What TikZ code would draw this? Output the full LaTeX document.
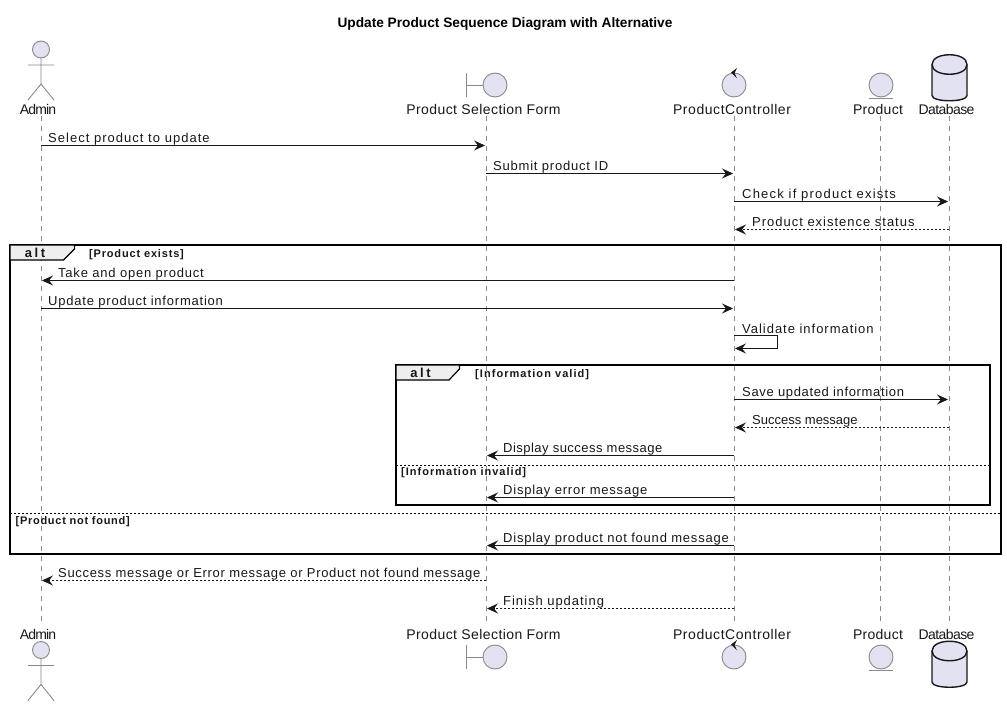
\documentclass[tikz,border=0pt]{standalone}
\usepackage{fontspec}
\setmainfont{Liberation Sans}
\newfontfamily\msgfont[LetterSpace=6]{Liberation Sans}
\newfontfamily\partfont[LetterSpace=3]{Liberation Sans}
\newfontfamily\guardfont[LetterSpace=7.5]{Liberation Sans}
\newfontfamily\altfont[LetterSpace=20]{Liberation Sans}
\usetikzlibrary{arrows.meta}
\definecolor{partfill}{HTML}{E2E2F0}
\definecolor{ink}{HTML}{181818}
\definecolor{lifegray}{HTML}{8A8A8A}
\definecolor{tabfill}{HTML}{EEEEEE}
\newcommand{\trk}[1]{\addfontfeature{LetterSpace=#1}}
\tikzset{
  lifeline/.style={draw=lifegray,line width=0.9pt,dash pattern=on 5pt off 5pt},
  msgline/.style={draw=ink,line width=0.9pt,-{Stealth[length=11pt,width=10pt,inset=4pt]}},
  retline/.style={msgline,dash pattern=on 2pt off 2pt},
  msglabel/.style={anchor=base west,inner sep=0pt,font=\msgfont\fontsize{13}{15}\selectfont,text=ink},
  partlabel/.style={anchor=base,inner sep=0pt,font=\partfont\fontsize{14}{16}\selectfont,text=ink},
  partshape/.style={draw=lifegray,line width=0.9pt,fill=partfill},
  dbshape/.style={draw=ink,line width=1.4pt,fill=partfill},
  frameline/.style={draw=black,line width=1.8pt},
  sepline/.style={draw=black,line width=0.9pt,dash pattern=on 2pt off 2pt},
  guard/.style={anchor=base west,inner sep=0pt,font=\guardfont\bfseries\fontsize{11}{13}\selectfont,text=ink},
  altlabel/.style={anchor=base,inner sep=0pt,font=\altfont\bfseries\fontsize{13}{15}\selectfont,text=ink},
  tabshape/.style={draw=black,line width=1.2pt,fill=tabfill},
}
% \sendmsg{name}{y}{from x}{to x}{style}{label x}{label}
\newcommand{\sendmsg}[7]{%
  \coordinate (#1a) at (#3,#2-0.5);
  \coordinate (#1b) at (#4,#2-0.5);
  \draw[#5] (#1a) -- (#1b);
  \node[msglabel] (#1t) at (#6,#2-3.8) {#7};
}
\newcommand{\actorfig}[2]{% centre x, head y
  \draw[partshape] (#1,#2) circle[radius=8.5];
  \draw[draw=lifegray,line width=0.9pt] (#1,#2+8.5) -- (#1,#2+34.5) (#1-13,#2+15.5) -- (#1+13,#2+15.5) (#1-13,#2+50.5) -- (#1,#2+34.5) -- (#1+13,#2+50.5);
}
\newcommand{\boundaryfig}[2]{%
  \draw[draw=lifegray,line width=0.9pt] (#1-29,#2-12) -- (#1-29,#2+12) (#1-29,#2) -- (#1-12,#2);
  \draw[partshape] (#1,#2) circle[radius=12];
}
\newcommand{\controlfig}[2]{%
  \draw[partshape] (#1,#2) circle[radius=12];
  \fill[ink] (#1-3,#2-12.5) -- (#1+3,#2-17) -- (#1+0.5,#2-12) -- (#1+3,#2-6.5) -- cycle;
}
\newcommand{\entityfig}[2]{%
  \draw[partshape] (#1,#2) circle[radius=12];
  \draw[draw=lifegray,line width=1.2pt] (#1-12,#2+13.5) -- (#1+12,#2+13.5);
}
\newcommand{\dbfig}[2]{% centre x, top y
  \draw[dbshape] (#1-17.5,#2+10) -- (#1-17.5,#2+41) .. controls (#1-17.5,#2+48) and (#1+17.5,#2+48) .. (#1+17.5,#2+41) -- (#1+17.5,#2+10) .. controls (#1+17.5,#2-3) and (#1-17.5,#2-3) .. (#1-17.5,#2+10) -- cycle;
  \draw[dbshape,fill=none] (#1-17.5,#2+10) .. controls (#1-17.5,#2+23) and (#1+17.5,#2+23) .. (#1+17.5,#2+10);
}
\begin{document}
\begin{tikzpicture}[x=1pt,y=-1pt]
\useasboundingbox (0,0) rectangle (1007,706);
\fill[white] (0,0) rectangle (1007,706);
\node[font=\bfseries\fontsize{13.7}{16}\selectfont,text=black,inner sep=0pt,anchor=base] (title) at (505,27.5) {Update Product Sequence Diagram with Alternative};

% participant labels (top and bottom)
\node[partlabel] (adminT) at (38,114.7) {\trk{-6}Admin};
\node[partlabel] (formT) at (483.5,114.7) {Product Selection Form};
\node[partlabel] (ctrlT) at (732,114.7) {\trk{4}ProductController};
\node[partlabel] (prodT) at (878,114.7) {\trk{2}Product};
\node[partlabel] (dbT) at (946.5,114.7) {\trk{-4}Database};
\node[partlabel] (adminB) at (38,639) {\trk{-6}Admin};
\node[partlabel] (formB) at (483.5,639) {Product Selection Form};
\node[partlabel] (ctrlB) at (732,639) {\trk{4}ProductController};
\node[partlabel] (prodB) at (878,639) {\trk{2}Product};
\node[partlabel] (dbB) at (946.5,639) {\trk{-4}Database};

% lifelines
\coordinate (adminS) at (41,116); \coordinate (adminE) at (41,625);
\coordinate (formS) at (486,116); \coordinate (formE) at (486,625);
\coordinate (ctrlS) at (734,116); \coordinate (ctrlE) at (734,625);
\coordinate (prodS) at (880,116); \coordinate (prodE) at (880,625);
\coordinate (dbS) at (949,116); \coordinate (dbE) at (949,625);
\draw[lifeline] (adminS) -- (adminE);
\draw[lifeline] (formS) -- (formE);
\draw[lifeline] (ctrlS) -- (ctrlE);
\draw[lifeline] (prodS) -- (prodE);
\draw[lifeline] (dbS) -- (dbE);

% participant figures
\actorfig{41}{49.5}
\boundaryfig{495}{85}
\controlfig{734}{85}
\entityfig{881}{85}
\dbfig{949.5}{54.5}
\actorfig{41}{650}
\boundaryfig{495}{657}
\controlfig{734}{657}
\entityfig{881}{657}
\dbfig{949.5}{641}

% outer frame
\draw[frameline] (10,245) rectangle (1001,554);
\draw[tabshape] (10,245) -- (74.5,245) -- (74.5,249) -- (63.5,260) -- (10,260) -- cycle;
\node[altlabel] (alt1) at (35,257.7) {alt};
\node[guard] (g1) at (89,257.2) {[Product exists]};
\draw[sepline] (10,513) -- (1001,513);
\node[guard] (g2) at (15.5,524.2) {\trk{6.5}[Product not found]};

% inner frame
\draw[frameline] (396,365) rectangle (990,505);
\draw[tabshape] (396,365) -- (459.5,365) -- (459.5,369) -- (449,380) -- (396,380) -- cycle;
\node[altlabel] (alt2) at (420.5,377.7) {alt};
\node[guard] (g3) at (475,377.2) {\trk{9.6}[Information valid]};
\draw[sepline] (396,465) -- (990,465);
\node[guard] (g4) at (401,475.2) {\trk{9.2}[Information invalid]};

% messages
\sendmsg{m1}{146}{41}{485}{msgline}{48}{\trk{7.9}Select product to update}
\sendmsg{m2}{174}{486}{733}{msgline}{493}{Submit product ID}
\sendmsg{m3}{202}{734}{948}{msgline}{742}{\trk{9.3}Check if product exists}
\sendmsg{m4}{230}{949}{735}{retline}{752}{\trk{7.6}Product existence status}
\sendmsg{m5}{281}{734}{42}{msgline}{58}{Take and open product}
\sendmsg{m6}{309}{41}{733}{msgline}{48}{Update product information}
\coordinate (selfa) at (734,335.5); \coordinate (selfb) at (777,335.5);
\coordinate (selfc) at (777,348.5); \coordinate (selfd) at (735,348.5);
\draw[msgline] (selfa) -- (selfb) -- (selfc) -- (selfd);
\node[msglabel] (selft) at (742,333.2) {\trk{7.5}Validate information};
\sendmsg{m7}{400}{734}{948}{msgline}{742}{\trk{5}Save updated information}
\sendmsg{m8}{428}{949}{735}{retline}{752}{\trk{0}Success message}
\sendmsg{m9}{456}{734}{487}{msgline}{503}{\trk{3.7}Display success message}
\sendmsg{m10}{498}{734}{487}{msgline}{503}{Display error message}
\sendmsg{m11}{546}{734}{487}{msgline}{503}{Display product not found message}
\sendmsg{m12}{581}{486}{42}{retline}{58}{\trk{5.25}Success message or Error message or Product not found message}
\sendmsg{m13}{609}{734}{487}{retline}{503}{\trk{7.5}Finish updating}
\end{tikzpicture}
\end{document}
